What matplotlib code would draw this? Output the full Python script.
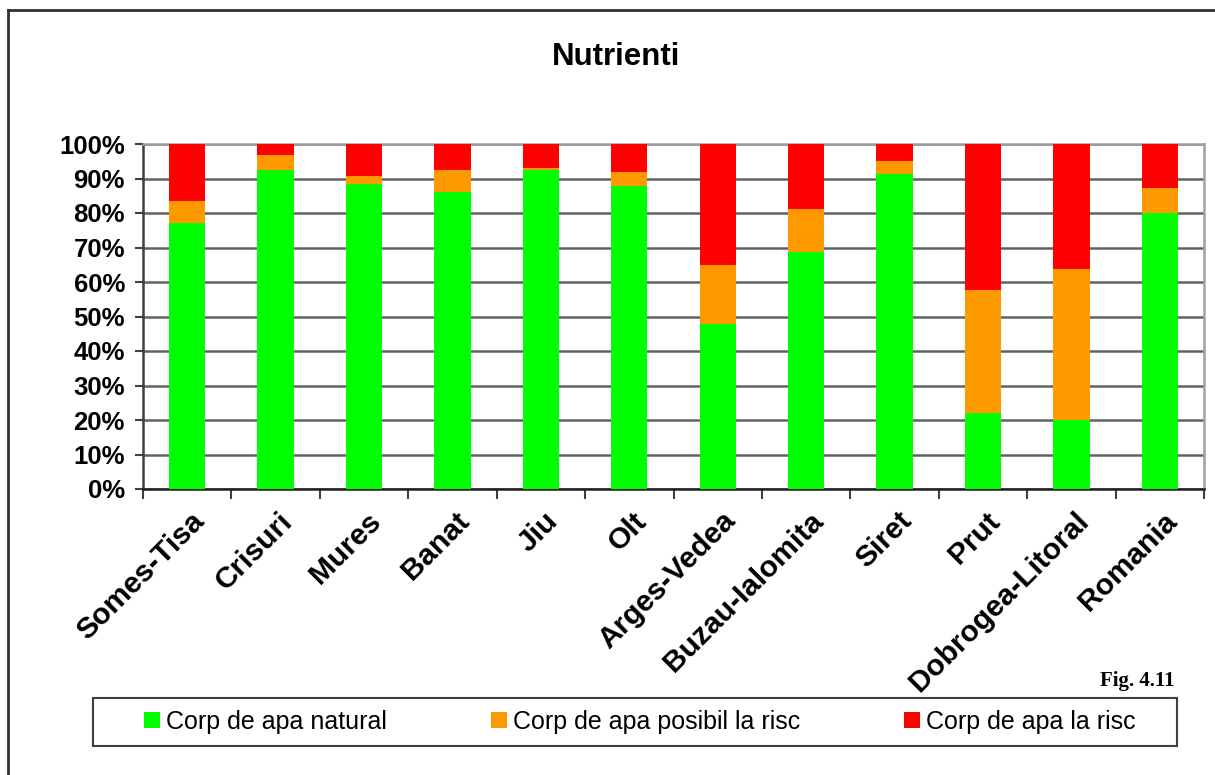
import matplotlib
matplotlib.use("Agg")
import matplotlib.pyplot as plt
from matplotlib.patches import Rectangle
from matplotlib.lines import Line2D
from matplotlib.ticker import MultipleLocator, FuncFormatter, FixedLocator
import matplotlib.transforms as mtransforms
import numpy as np

plt.rcParams['font.family'] = ['Liberation Sans', 'DejaVu Sans']

# Share of water bodies per basin (%)
basins = ["Somes-Tisa", "Crisuri", "Mures", "Banat", "Jiu", "Olt", "Arges-Vedea",
          "Buzau-Ialomita", "Siret", "Prut", "Dobrogea-Litoral", "Romania"]
natural = [77.1, 92.5, 88.5, 86.2, 92.6, 87.9, 47.9, 68.8, 91.4, 22.0, 20.0, 80.0]
possible_risk = [6.4, 4.3, 2.2, 6.3, 0.4, 4.0, 17.0, 12.4, 3.7, 35.7, 43.8, 7.2]
at_risk = [16.5, 3.2, 9.3, 7.5, 7.0, 8.1, 35.1, 18.8, 4.9, 42.3, 36.2, 12.8]

series_labels = ["Corp de apa natural", "Corp de apa posibil la risc", "Corp de apa la risc"]
series_colors = ["#00FF00", "#FF9900", "#FF0000"]

W, H = 1215, 775
fig = plt.figure(figsize=(W / 100, H / 100), dpi=100)

ax = fig.add_axes([143 / W, (H - 489) / H, (1204 - 143) / W, (489 - 144) / H])

x = np.arange(len(basins))
bw = 0.41
b1 = ax.bar(x, natural, bw, color=series_colors[0], zorder=3)
b2 = ax.bar(x, possible_risk, bw, bottom=natural, color=series_colors[1], zorder=3)
bottom3 = np.array(natural) + np.array(possible_risk)
b3 = ax.bar(x, at_risk, bw, bottom=bottom3, color=series_colors[2], zorder=3)

ax.set_xlim(-0.5, len(basins) - 0.5)
ax.set_ylim(0, 100)

# Gridlines
ax.yaxis.set_major_locator(MultipleLocator(10))
ax.yaxis.set_major_formatter(FuncFormatter(lambda v, p: f"{int(round(v))}%"))
ax.grid(axis='y', color='#626262', linewidth=1.8, zorder=1)
ax.set_axisbelow(True)

for side in ['top', 'right']:
    ax.spines[side].set_color('#a0a0a0')
    ax.spines[side].set_linewidth(1.8)
ax.spines['left'].set_color('#404040')
ax.spines['left'].set_linewidth(1.8)
ax.spines['bottom'].set_color('#202020')
ax.spines['bottom'].set_linewidth(1.8)

ax.tick_params(axis='y', direction='out', length=6, width=1.5, color='#404040',
               labelsize=18.5, pad=7)
for lbl in ax.get_yticklabels():
    lbl.set_fontweight('bold')

# Category labels at centres, tick marks at category boundaries
ax.set_xticks(x)
ax.set_xticklabels(basins, rotation=45, ha='right', va='center',
                   rotation_mode='anchor', fontsize=21.5, fontweight='bold')
ax.tick_params(axis='x', which='major', length=0, pad=20)
ax.xaxis.set_minor_locator(FixedLocator(np.arange(-0.5, len(basins), 1.0)))
ax.tick_params(axis='x', which='minor', direction='out', length=7, width=1.5, color='#404040')
shift = mtransforms.ScaledTranslation(13 / 100, 0, fig.dpi_scale_trans)
for lbl in ax.get_xticklabels():
    lbl.set_transform(lbl.get_transform() + shift)

# Title
fig.text(616 / W, (H - 57) / H, "Nutrienti", ha='center', va='center',
         fontsize=22.5, fontweight='bold')

# Figure label
fig.text(1174 / W, (H - 681) / H, "Fig. 4.11", ha='right', va='center',
         fontsize=15, fontweight='bold', family=['Liberation Serif', 'DejaVu Serif'])

# Legend with its own frame
fig.patches.append(Rectangle((93 / W, (H - 746) / H), (1177 - 93) / W, (746 - 698) / H,
                             transform=fig.transFigure, fill=False,
                             edgecolor='#404040', linewidth=1.5))
fig.legend([b1, b2, b3], series_labels, loc='center', ncol=3,
           bbox_to_anchor=(640 / W, (H - 722) / H), frameon=False,
           fontsize=18, handlelength=0.64, handleheight=0.64,
           handletextpad=0.25, columnspacing=4.15, borderpad=0)

# Outer chart border (top and left edges)
fig.lines.append(Line2D([8 / W, 8 / W], [0, (H - 10) / H], transform=fig.transFigure,
                        color='#303030', linewidth=2))
fig.lines.append(Line2D([8 / W, 1], [(H - 10) / H, (H - 10) / H], transform=fig.transFigure,
                        color='#303030', linewidth=2))

fig.savefig("out.png", dpi=100)
